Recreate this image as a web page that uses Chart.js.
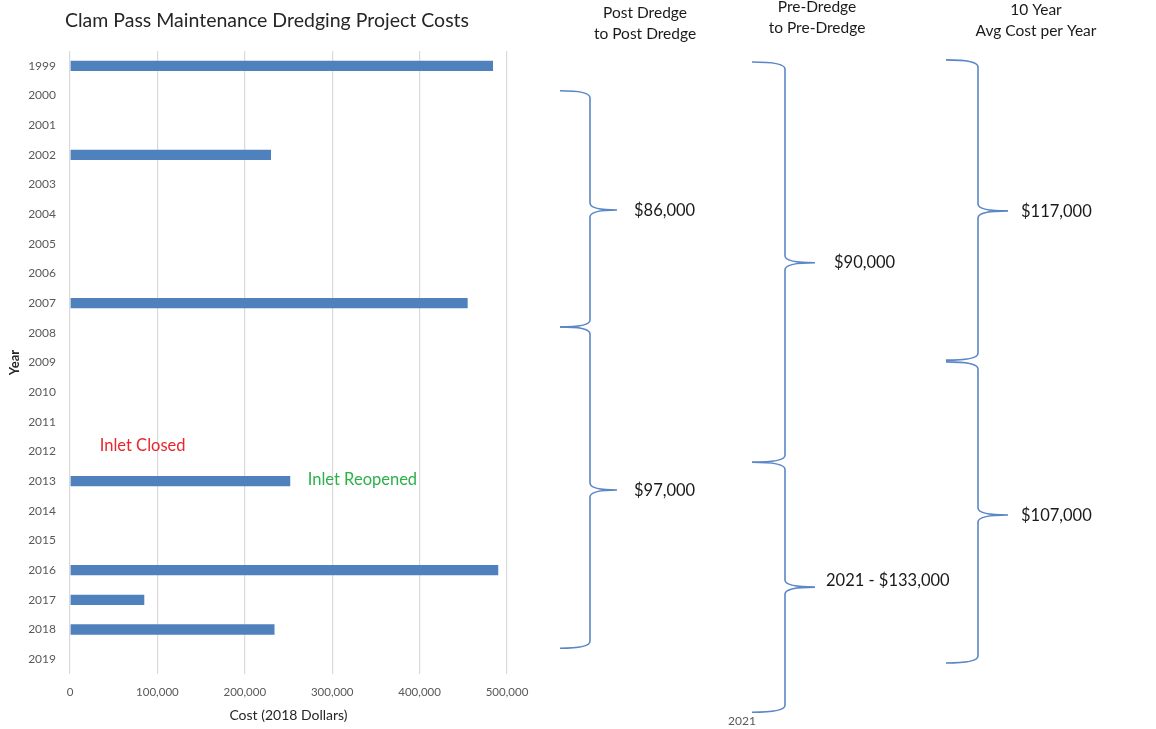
<!DOCTYPE html>
<html>
<head>
<meta charset="utf-8">
<title>Clam Pass Maintenance Dredging Project Costs</title>
<script src="https://cdn.jsdelivr.net/npm/chart.js@4.4.1/dist/chart.umd.min.js"></script>
<style>
    html, body { margin: 0; padding: 0; background: #fff; }
    #wrap { position: relative; width: 1156px; height: 729px; }
</style>
</head>
<body>
<div id="wrap"><canvas id="CostChart" width="1156" height="729"></canvas></div>
<script>
// -------------------------    Data    -------------------------

var title = 'Clam Pass Maintenance Dredging Project Costs';

var years = ['1999', '2000', '2001', '2002', '2003', '2004', '2005', '2006', '2007', '2008',
    '2009', '2010', '2011', '2012', '2013', '2014', '2015', '2016', '2017', '2018', '2019'];

// project cost per year, 2018 dollars (null = no dredging that year)
var costs = [484000, null, null, 230000, null, null, null, null, 455000, null,
    null, null, null, null, 252000, null, null, 490000, 85000, 234000, null];

var xTicks = [0, 100000, 200000, 300000, 400000, 500000];

// bracket groups: start year, middle year (label), end year, label text
var postStart = [1999.84, 2007.8];
var postMid = [2003.86, 2013.3];
var postEnd = [2007.8, 2018.63];
var postLabels = ['$86,000', '$97,000'];

var preStart = [1998.87, 2012.36];
var preMid = [2005.64, 2016.57];
var preEnd = [2012.36, 2020.79];
var preLabels = ['$90,000', '2021 - $133,000'];

var avgStart = [1998.8, 2008.98];
var avgMid = [2003.89, 2014.14];
var avgEnd = [2008.92, 2019.13];
var avgLabels = ['$117,000', '$107,000'];

// notes placed on the chart: text, x value, year
var notes = [
    { text: 'Inlet Closed', x: 34000, year: 2011.8, color: '#e8262b' },
    { text: 'Inlet Reopened', x: 272000, year: 2012.95, color: '#2bb04a' },
];


// -------------------------    Layout / styles    -------------------------

var FONT = 'Lato, "Open Sans", sans-serif';
var BRACE_COLOR = '#5b87c6';

// column geometry for the bracket groups (pixels)
var columns = [
    { head: ['Post Dredge', 'to Post Dredge'], headX: 645, headY: 13, left: 560, spine: 590, tip: 617,
        textX: [634, 634], textDy: [1, 1],
        start: postStart, mid: postMid, end: postEnd, labels: postLabels },
    { head: ['Pre-Dredge', 'to Pre-Dredge'], headX: 817, headY: 7, left: 752, spine: 785, tip: 815,
        textX: [834, 826], textDy: [0, -6],
        start: preStart, mid: preMid, end: preEnd, labels: preLabels },
    { head: ['10 Year', 'Avg Cost per Year'], headX: 1036, headY: 10, left: 946, spine: 978, tip: 1008,
        textX: [1021, 1021], textDy: [1, 1],
        start: avgStart, mid: avgMid, end: avgEnd, labels: avgLabels },
];


// -------------------------    helperfunctions    -------------------------

function yearToIndex(year) {
    return year - Number(years[0]);
}

function drawBrace(ctx, col, yTop, yMid, yBot) {
    var L = col.left, S = col.spine, T = col.tip;
    var r = 7;
    ctx.beginPath();
    ctx.moveTo(L, yTop);
    ctx.quadraticCurveTo(S, yTop, S, yTop + r);
    ctx.lineTo(S, yMid - r);
    ctx.quadraticCurveTo(S, yMid, T, yMid);
    ctx.moveTo(T, yMid);
    ctx.quadraticCurveTo(S, yMid, S, yMid + r);
    ctx.lineTo(S, yBot - r);
    ctx.quadraticCurveTo(S, yBot, L, yBot);
    ctx.stroke();
}

var annotations = {
    id: 'annotations',
    afterDraw: function (chart) {
        var ctx = chart.ctx;
        var xs = chart.scales.x, ys = chart.scales.y;
        ctx.save();

        // chart title, centred over the bar panel
        ctx.fillStyle = '#262626';
        ctx.font = '19.5px ' + FONT;
        ctx.textAlign = 'center';
        ctx.textBaseline = 'middle';
        ctx.fillText(title, 267, 21);

        // notes inside the plot
        ctx.font = '16.5px ' + FONT;
        ctx.textAlign = 'left';
        notes.forEach(function (n) {
            ctx.fillStyle = n.color;
            ctx.fillText(n.text, xs.getPixelForValue(n.x), ys.getPixelForValue(yearToIndex(n.year)));
        });

        // bracket columns
        columns.forEach(function (col) {
            ctx.fillStyle = '#1a1a1a';
            ctx.font = '15.5px ' + FONT;
            ctx.textAlign = 'center';
            ctx.fillText(col.head[0], col.headX, col.headY);
            ctx.fillText(col.head[1], col.headX, col.headY + 21);

            ctx.strokeStyle = BRACE_COLOR;
            ctx.lineWidth = 1.6;
            ctx.font = '16.5px ' + FONT;
            for (var i = 0; i < col.start.length; i++) {
                var yTop = ys.getPixelForValue(yearToIndex(col.start[i]));
                var yMid = ys.getPixelForValue(yearToIndex(col.mid[i]));
                var yBot = ys.getPixelForValue(yearToIndex(col.end[i]));
                drawBrace(ctx, col, yTop, yMid, yBot);

                ctx.fillStyle = '#1a1a1a';
                ctx.textAlign = 'left';
                ctx.fillText(col.labels[i], col.textX[i], yMid + col.textDy[i]);
            }
        });

        // year marker at the end of the last pre-dredge bracket
        ctx.fillStyle = '#595959';
        ctx.font = '12px ' + FONT;
        ctx.textAlign = 'center';
        ctx.fillText('2021', 742, ys.getPixelForValue(yearToIndex(2021)) + 3);

        ctx.restore();
    }
};


// -------------------------    Chart Setup    -------------------------

var ctx = document.getElementById('CostChart').getContext('2d');
var CostChart = new Chart(ctx, {
    type: 'bar',
    data: {
        labels: years,
        datasets: [{
            label: 'Cost',
            data: costs,
            backgroundColor: '#4f81bd',
            borderWidth: 0,
            barPercentage: 0.35,
            categoryPercentage: 1,
        }],
    },
    options: {
        indexAxis: 'y',
        responsive: false,
        animation: false,
        layout: {
            padding: { left: 7, right: 649, top: 51, bottom: 5 }
        },
        plugins: {
            legend: { display: false },
            tooltip: { enabled: false },
            title: { display: false },
        },
        scales: {
            x: {
                min: 0,
                max: 500000,
                afterBuildTicks: function (axis) {
                    axis.ticks = xTicks.map(function (v) { return { value: v }; });
                },
                afterFit: function (axis) {
                    axis.height = 50;
                },
                ticks: {
                    color: '#595959',
                    font: { family: FONT, size: 11.5 },
                    padding: 11,
                    maxRotation: 0,
                    callback: function (v) { return Number(v).toLocaleString('en-US'); },
                },
                grid: { color: '#d9d9d9', lineWidth: 1.2, drawTicks: false },
                border: { display: false },
                title: {
                    display: true,
                    text: 'Cost (2018 Dollars)',
                    color: '#262626',
                    font: { family: FONT, size: 14 },
                    padding: { top: 7, bottom: 0 },
                },
            },
            y: {
                afterFit: function (axis) {
                    axis.width = 63;
                },
                grid: { display: false, drawTicks: false },
                border: { display: false },
                ticks: {
                    color: '#595959',
                    font: { family: FONT, size: 12 },
                    padding: 14,
                },
                title: {
                    display: true,
                    text: 'Year',
                    color: '#262626',
                    font: { family: FONT, size: 13, weight: 'bold' },
                    padding: { top: 0, bottom: 4 },
                },
            },
        },
    },
    plugins: [annotations],
});
</script>
</body>
</html>
